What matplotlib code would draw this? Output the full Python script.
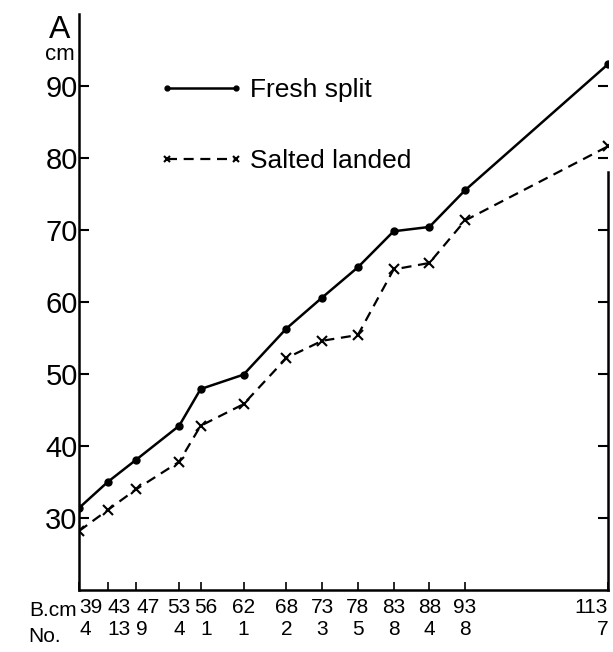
import numpy as np
import matplotlib
matplotlib.use("Agg")
import matplotlib.pyplot as plt
from matplotlib import transforms

# ===============================
# Data
# ===============================

b_cm = [39, 43, 47, 53, 56, 62, 68, 73, 78, 83, 88, 93, 113]
n_fish = [4, 13, 9, 4, 1, 1, 2, 3, 5, 8, 4, 8, 7]

fresh_split = [31.4, 35.0, 38.1, 42.8, 47.9, 49.9, 56.3, 60.6, 64.8, 69.8, 70.4, 75.5, 93.0]
salted_landed = [28.2, 31.1, 34.0, 37.8, 42.8, 45.8, 52.2, 54.6, 55.4, 64.5, 65.4, 71.3, 81.6]

y_ticks = [30, 40, 50, 60, 70, 80, 90]

plt.rcParams["font.family"] = ["Liberation Sans", "DejaVu Sans"]

# ===============================
# Figure
# ===============================

fig = plt.figure(figsize=(6.13, 6.52), dpi=100)
ax = fig.add_axes([0.129, 0.095, 0.863, 0.884])

ax.plot(b_cm, fresh_split, "-", color="black", lw=1.8,
        marker="o", ms=5, label="Fresh split")
ax.plot(b_cm, salted_landed, color="black", lw=1.6, ls=(0, (4.5, 3)),
        marker="x", ms=7, mew=1.5, label="Salted landed")

ax.set_xlim(39, 113)
ax.set_ylim(20, 100)

# spines
ax.spines["top"].set_visible(False)
for side in ["left", "bottom", "right"]:
    ax.spines[side].set_linewidth(1.8)
ax.spines["right"].set_bounds(20, 78)

# y axis
ax.set_yticks(y_ticks)
ax.set_yticklabels([str(v) for v in y_ticks], fontsize=21)
ax.tick_params(axis="y", direction="in", length=7, width=1.5, pad=1,
               right=True)

# x axis (two rows of labels: B.cm and No.)
ax.set_xticks(b_cm)
ax.set_xticklabels([f"{b}\n{n}" for b, n in zip(b_cm, n_fish)],
                   fontsize=15, linespacing=1.2)
ax.tick_params(axis="x", direction="in", length=6, width=1.2, pad=6)
xlabels = ax.get_xticklabels()
for lab in xlabels[:3]:
    lab.set_horizontalalignment("left")
xlabels[-1].set_horizontalalignment("right")
shift = transforms.ScaledTranslation(4 / 72, 0, fig.dpi_scale_trans)
xlabels[4].set_transform(xlabels[4].get_transform() + shift)

trans = transforms.blended_transform_factory(fig.transFigure, ax.transAxes)
ax.text(0.125, -0.0185, "B.cm", transform=trans, fontsize=15,
        ha="right", va="top")
ax.text(0.10, -0.0645, "No.", transform=trans, fontsize=15,
        ha="right", va="top")

# axis title A / cm
ax.text(-0.017, 0.997, "A", transform=ax.transAxes, fontsize=23,
        ha="right", va="top")
ax.text(-0.008, 0.948, "cm", transform=ax.transAxes, fontsize=16,
        ha="right", va="top")

# legend
ax.legend(loc="upper left", bbox_to_anchor=(0.107, 0.93), frameon=False,
          numpoints=2, handlelength=3.2, handletextpad=0.25,
          labelspacing=1.8, fontsize=19, markerscale=0.7)

fig.savefig("out.png", dpi=100)
